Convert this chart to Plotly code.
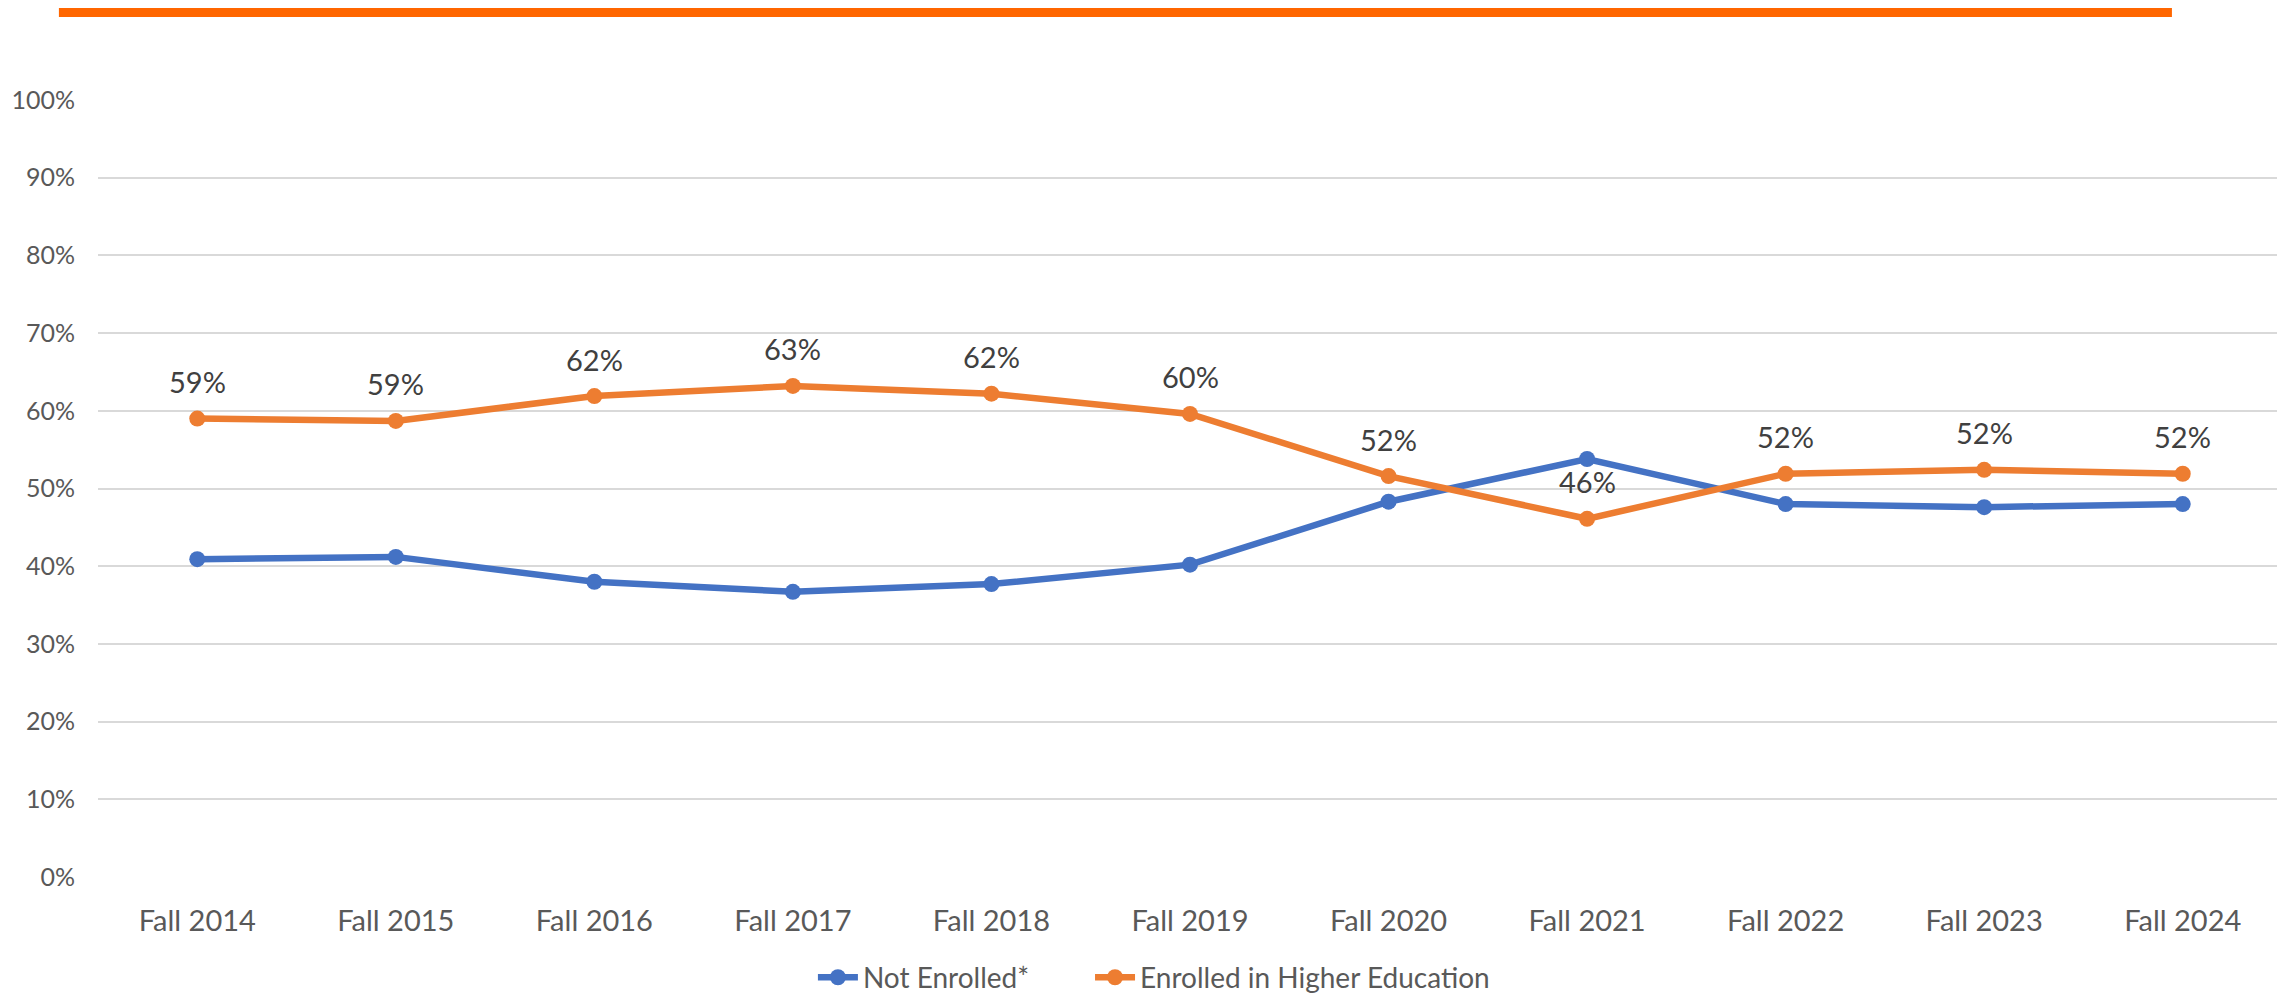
import plotly.graph_objects as go

categories = ["Fall 2014", "Fall 2015", "Fall 2016", "Fall 2017", "Fall 2018", "Fall 2019",
              "Fall 2020", "Fall 2021", "Fall 2022", "Fall 2023", "Fall 2024"]
not_enrolled = [0.409, 0.412, 0.380, 0.367, 0.377, 0.402, 0.483, 0.538, 0.480, 0.476, 0.480]
enrolled = [0.590, 0.587, 0.619, 0.632, 0.622, 0.596, 0.516, 0.461, 0.519, 0.524, 0.519]
y_ticks = [0, 0.1, 0.2, 0.3, 0.4, 0.5, 0.6, 0.7, 0.8, 0.9, 1.0]

FONT = "Lato"
BLUE = "#4472C4"
ORANGE = "#ED7D31"

fig = go.Figure()
fig.add_trace(go.Scatter(
    x=categories, y=not_enrolled, name="Not Enrolled*", mode="lines+markers",
    line=dict(color=BLUE, width=6.5), marker=dict(size=16, color=BLUE),
    hoverinfo="skip", legend="legend"))
fig.add_trace(go.Scatter(
    x=categories, y=enrolled, name="Enrolled in Higher Education", mode="lines+markers",
    line=dict(color=ORANGE, width=6.5), marker=dict(size=16, color=ORANGE),
    hoverinfo="skip", legend="legend2"))

for c, v in zip(categories, enrolled):
    fig.add_annotation(x=c, y=v, text=f"{round(v*100)}%", showarrow=False,
                       yshift=37, font=dict(family=FONT, size=29, color="#404040"))

fig.add_shape(type="rect", xref="paper", yref="paper",
              x0=-0.0179, x1=0.9496, y0=1.1068, y1=1.13,
              fillcolor="#FF6600", line=dict(width=0), layer="above")

legend_common = dict(orientation="h", xref="container", xanchor="left",
                     yref="container", y=0.0256, yanchor="middle",
                     font=dict(family=FONT, size=28, color="#595959"),
                     itemwidth=40, tracegroupgap=0, bgcolor="rgba(0,0,0,0)")

fig.update_layout(
    width=2277, height=995,
    margin=dict(l=90, r=3, t=92, b=126, autoexpand=False),
    paper_bgcolor="white", plot_bgcolor="white",
    font=dict(family=FONT, size=28, color="#595959"),
    showlegend=True,
    legend=dict(x=0.3535, **legend_common),
    legend2=dict(x=0.4752, **legend_common),
)
fig.update_xaxes(type="category", showgrid=False, zeroline=False, showline=False,
                 ticks="", ticklabelstandoff=24, automargin=False,
                 tickfont=dict(family=FONT, size=29, color="#595959"),
                 range=[-0.5, 10.5])
fig.update_yaxes(range=[0, 1.0], tickvals=y_ticks, tickformat=".0%",
                 showgrid=True, gridcolor="#D9D9D9", gridwidth=2, automargin=False,
                 zeroline=False, showline=False, ticks="", ticklabelstandoff=22,
                 tickfont=dict(family=FONT, size=25, color="#595959"))

fig.write_html("out.html")
